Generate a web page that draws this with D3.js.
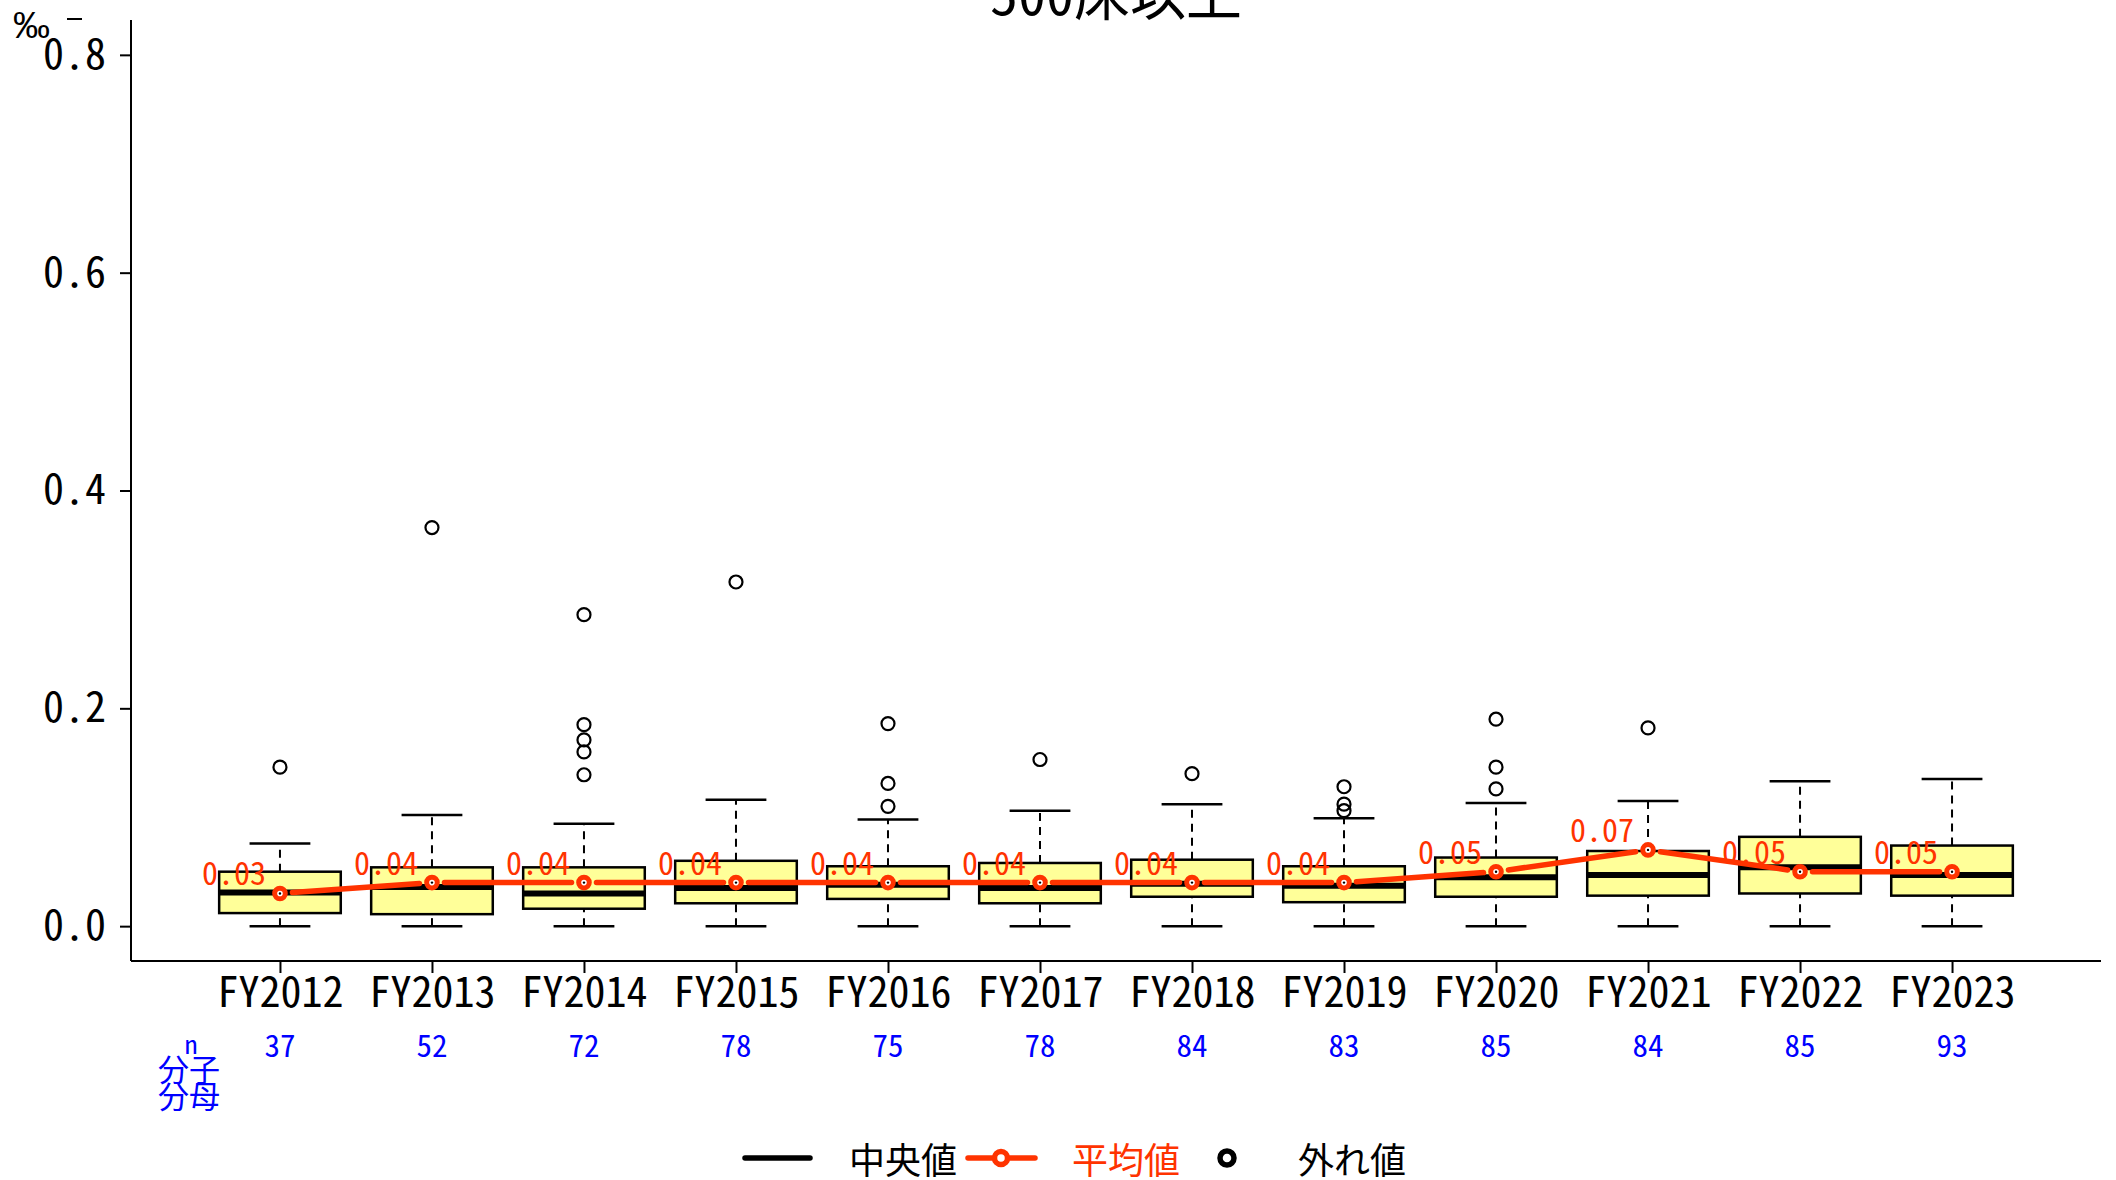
<!DOCTYPE html>
<html><head><meta charset="utf-8">
<script src="https://cdn.jsdelivr.net/npm/d3@7"></script>
<style>
html,body{margin:0;padding:0;background:#fff;}
text{font-family:"Noto Sans CJK JP","Noto Sans",sans-serif;font-feature-settings:"hwid";}
</style></head>
<body><svg id="chart" width="2116" height="1180"></svg>
<script>
const title = "500床以上";
const categories = ["FY2012","FY2013","FY2014","FY2015","FY2016","FY2017","FY2018","FY2019","FY2020","FY2021","FY2022","FY2023"];
const nValues = [37,52,72,78,75,78,84,83,85,84,85,93];
const lowerWhisker = [0,0,0,0,0,0,0,0,0,0,0,0];
const q1 = [0.012,0.011,0.016,0.021,0.025,0.021,0.027,0.022,0.027,0.028,0.030,0.028];
const medians = [0.031,0.036,0.030,0.035,0.038,0.035,0.039,0.037,0.045,0.047,0.054,0.047];
const q3 = [0.050,0.054,0.054,0.060,0.055,0.058,0.061,0.055,0.063,0.069,0.082,0.074];
const upperWhisker = [0.076,0.102,0.094,0.116,0.098,0.106,0.112,0.099,0.113,0.115,0.133,0.135];
const means = [0.030,0.040,0.040,0.040,0.040,0.040,0.040,0.040,0.050,0.070,0.050,0.050];
const outliers = [[0.146],[0.366],[0.139,0.160,0.171,0.185,0.286],[0.316],[0.110,0.131,0.186],[0.153],[0.140],[0.106,0.112,0.128],[0.126,0.146,0.190],[0.182],[],[]];
const yTicks = [0,0.2,0.4,0.6,0.8];
const legendLabels = ["中央値","平均値","外れ値"];

const RED = "#ff3300", BLUE = "#0000ff", FILL = "#ffff99";
const svg = d3.select("#chart");
svg.append("rect").attr("width",2116).attr("height",1180).attr("fill","#fff");

const L = 131, R = 2101, T = 20, B = 961;
const x = d3.scalePoint().domain(categories).range([L, R]).padding(0.98);
const y = d3.scaleLinear().domain([-0.032, 0.832]).range([B, T]);
const boxW = x.step() * 0.8, capW = boxW * 0.5;

// title
svg.append("text").attr("x",(L+R)/2).attr("y",15).attr("text-anchor","middle")
  .attr("font-size",56).text(title);

// y axis
const yAxis = svg.append("g").attr("transform",`translate(${L},0)`)
  .call(d3.axisLeft(y).tickValues(yTicks).tickSize(11).tickPadding(14).tickFormat(d3.format(".1f")));
yAxis.select(".domain").remove();
yAxis.selectAll(".tick line").attr("stroke","#000").attr("stroke-width",2);
yAxis.selectAll(".tick text").attr("font-size",42).attr("fill","#000")
  .attr("font-family",'"Noto Sans CJK JP",sans-serif');
svg.append("line").attr("x1",L).attr("x2",L).attr("y1",T).attr("y2",B).attr("stroke","#000").attr("stroke-width",2);
// x axis
svg.append("line").attr("x1",L).attr("x2",R).attr("y1",B).attr("y2",B).attr("stroke","#000").attr("stroke-width",2);
const xAxis = svg.append("g").attr("transform",`translate(0,${B})`)
  .call(d3.axisBottom(x).tickSize(12).tickPadding(14));
xAxis.select(".domain").remove();
xAxis.selectAll(".tick line").attr("stroke","#000").attr("stroke-width",2);
xAxis.selectAll(".tick text").attr("font-size",42).attr("fill","#000")
  .attr("font-family",'"Noto Sans CJK JP",sans-serif').attr("dy",null).attr("y",46);

// unit
svg.append("text").attr("x",13).attr("y",38).attr("font-size",37)
  .style("font-feature-settings","normal").style("font-family",'"Liberation Sans",sans-serif').text("‰");
svg.append("line").attr("x1",67).attr("x2",82).attr("y1",19).attr("y2",19).attr("stroke","#000").attr("stroke-width",2);

// n row
svg.append("g").selectAll("text").data(categories).join("text")
  .attr("x",d=>x(d)).attr("y",1057).attr("text-anchor","middle").attr("font-size",31)
  .attr("fill",BLUE).text((d,i)=>nValues[i]);
svg.append("text").attr("x",191).attr("y",1054).attr("text-anchor","middle").attr("font-size",26).attr("fill",BLUE).text("n");
svg.append("text").attr("x",189).attr("y",1081).attr("text-anchor","middle").attr("font-size",31).attr("fill",BLUE).text("分子");
svg.append("text").attr("x",189).attr("y",1108).attr("text-anchor","middle").attr("font-size",31).attr("fill",BLUE).text("分母");

// boxes
const g = svg.append("g");
categories.forEach((c,i)=>{
  const cx = x(c);
  [[q3[i],upperWhisker[i]],[lowerWhisker[i],q1[i]]].forEach(([a,b])=>{
    g.append("line").attr("x1",cx).attr("x2",cx).attr("y1",y(a)).attr("y2",y(b))
      .attr("stroke","#000").attr("stroke-width",2).attr("stroke-dasharray","8,6");
  });
  [upperWhisker[i],lowerWhisker[i]].forEach(v=>{
    g.append("line").attr("x1",cx-capW/2).attr("x2",cx+capW/2).attr("y1",y(v)).attr("y2",y(v))
      .attr("stroke","#000").attr("stroke-width",2.5);
  });
  g.append("rect").attr("x",cx-boxW/2).attr("width",boxW).attr("y",y(q3[i]))
    .attr("height",y(q1[i])-y(q3[i])).attr("fill",FILL).attr("stroke","#000").attr("stroke-width",2.5);
  g.append("line").attr("x1",cx-boxW/2).attr("x2",cx+boxW/2).attr("y1",y(medians[i])).attr("y2",y(medians[i]))
    .attr("stroke","#000").attr("stroke-width",6);
  outliers[i].forEach(v=>{
    g.append("circle").attr("cx",cx).attr("cy",y(v)).attr("r",6.5).attr("fill","none")
      .attr("stroke","#000").attr("stroke-width",2.2);
  });
});

// mean line with gaps (type b)
const pts = categories.map((c,i)=>[x(c), y(means[i])]);
const gap = 12.5;
for(let i=0;i<pts.length-1;i++){
  const [x0,y0]=pts[i],[x1,y1]=pts[i+1];
  const dx=x1-x0, dy=y1-y0, len=Math.hypot(dx,dy);
  const ux=dx/len, uy=dy/len;
  svg.append("line").attr("x1",x0+ux*gap).attr("y1",y0+uy*gap).attr("x2",x1-ux*gap).attr("y2",y1-uy*gap)
    .attr("stroke",RED).attr("stroke-width",5.5).attr("stroke-linecap","round");
}
const mp = svg.append("g").selectAll("g").data(pts).join("g");
mp.append("circle").attr("cx",d=>d[0]).attr("cy",d=>d[1]).attr("r",5.3).attr("fill","#fff")
  .attr("stroke",RED).attr("stroke-width",5);
mp.append("circle").attr("cx",d=>d[0]).attr("cy",d=>d[1]).attr("r",1.2).attr("fill","#000");
svg.append("g").selectAll("text").data(categories).join("text")
  .attr("x",d=>x(d)-14).attr("y",(d,i)=>y(means[i])-8).attr("text-anchor","end")
  .attr("font-size",32).attr("fill",RED).text((d,i)=>d3.format(".2f")(means[i]));

// legend
const ly = 1158, ty = 1174;
svg.append("line").attr("x1",745).attr("x2",810).attr("y1",ly).attr("y2",ly).attr("stroke","#000").attr("stroke-width",5.5).attr("stroke-linecap","round");
svg.append("text").attr("x",849).attr("y",ty).attr("font-size",36).text(legendLabels[0]);
svg.append("line").attr("x1",968).attr("x2",1035).attr("y1",ly).attr("y2",ly).attr("stroke",RED).attr("stroke-width",5.5).attr("stroke-linecap","round");
svg.append("circle").attr("cx",1001).attr("cy",ly).attr("r",6.5).attr("fill","#fff").attr("stroke",RED).attr("stroke-width",5.5);
svg.append("text").attr("x",1072).attr("y",ty).attr("font-size",36).attr("fill",RED).text(legendLabels[1]);
svg.append("circle").attr("cx",1227).attr("cy",ly).attr("r",7).attr("fill","#fff").attr("stroke","#000").attr("stroke-width",5.5);
svg.append("text").attr("x",1298).attr("y",ty).attr("font-size",36).text(legendLabels[2]);
</script></body></html>
